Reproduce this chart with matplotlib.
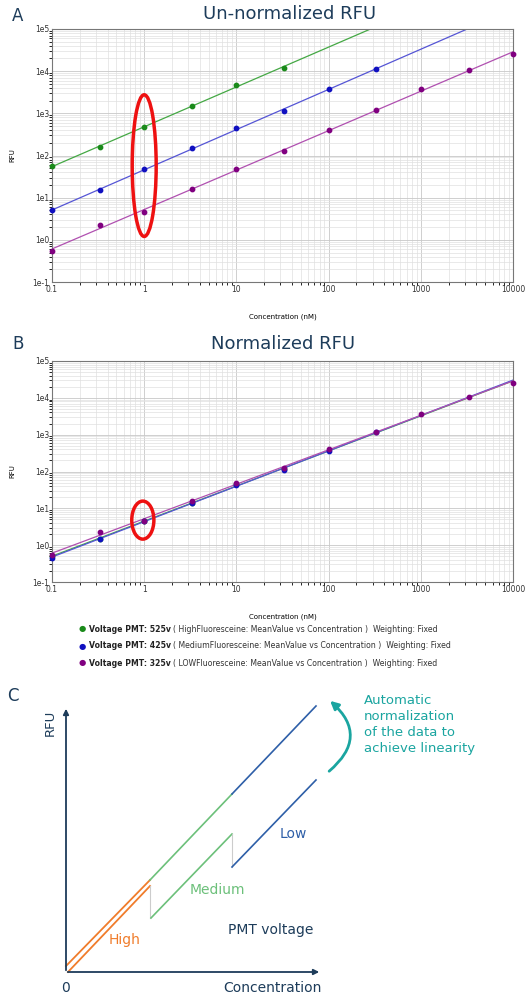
import numpy as np
import matplotlib
matplotlib.use("Agg")
import matplotlib.pyplot as plt
from matplotlib.patches import Ellipse, FancyArrowPatch

conc = [0.1, 0.33, 1, 3.3, 10, 33, 100, 330, 1000, 3300, 10000]
high_raw = [55, 160, 480, 1500, 4700, 12000]
med_raw = [5, 15, 48, 150, 450, 1150, 3700, 11500]
low_raw = [0.55, 2.3, 4.5, 16, 48, 125, 400, 1200, 3700, 10500, 26000]
high_norm = [0.5, 1.5, 4.6, 14, 45, 115]
med_norm = [0.45, 1.5, 4.6, 14, 43, 110, 370, 1150]
low_norm = [0.55, 2.3, 4.5, 16, 48, 125, 400, 1200, 3700, 10500, 26000]
xticks = [0.1, 1, 10, 100, 1000, 10000]
xticklabels = ["0.1", "1", "10", "100", "1000", "10000"]
yticks = [0.1, 1, 10, 100, 1000, 10000, 100000]
yticklabels = ["1e-1", "1e0", "1e1", "1e2", "1e3", "1e4", "1e5"]
legend_bold = ["Voltage PMT: 525v", "Voltage PMT: 425v", "Voltage PMT: 325v"]
legend_desc = ["( HighFluoresceine: MeanValue vs Concentration )  Weighting: Fixed",
               "( MediumFluoresceine: MeanValue vs Concentration )  Weighting: Fixed",
               "( LOWFluoresceine: MeanValue vs Concentration )  Weighting: Fixed"]

W, H = 529, 1000
fig = plt.figure(figsize=(W/100, H/100), dpi=100)
navy = "#1d3c5a"
pt_cols = ["#1a8a1a", "#1010c0", "#800080"]
ln_cols = ["#44a844", "#5555d5", "#b050b0"]

def fax(l, r, t, b):
    return fig.add_axes([l/W, 1-b/H, (r-l)/W, (b-t)/H])

def panel(ax, series, ell):
    xs = np.logspace(-1, 4, 50)
    for (d, pc, lc) in zip(series, pt_cols, ln_cols):
        x = np.array(conc[:len(d)]); y = np.array(d)
        p = np.polyfit(np.log10(x), np.log10(y), 1)
        ax.plot(xs, 10**np.polyval(p, np.log10(xs)), color=lc, lw=0.9)
        ax.scatter(x, y, s=10, color=pc, zorder=3, clip_on=False)
    ax.set_xscale("log"); ax.set_yscale("log")
    ax.set_xlim(0.1, 10000); ax.set_ylim(0.1, 1e5)
    ax.set_xticks(xticks, xticklabels); ax.set_yticks(yticks, yticklabels)
    ax.tick_params(labelsize=5.5, colors="#333333", length=0, pad=2)
    ax.grid(True, which="major", color="#c8c8c8", lw=0.6)
    ax.grid(True, which="minor", color="#e0e0e0", lw=0.5)
    for s in ax.spines.values():
        s.set_color("#777777")
    ax.set_ylabel("RFU", fontsize=5, labelpad=12)
    ax.set_xlabel("Concentration (nM)", fontsize=5, labelpad=14)
    ax.add_patch(Ellipse(ell[:2], ell[2], ell[3], transform=ax.transAxes,
                         fill=False, ec="#ee1111", lw=2.5, zorder=4))

axA = fax(52, 513, 29, 282)
panel(axA, [high_raw, med_raw, low_raw], (0.2, 0.46, 0.052, 0.56))
axB = fax(52, 513, 361, 582)
panel(axB, [high_norm, med_norm, low_norm], (0.197, 0.28, 0.048, 0.172))

fig.text(12/W, 1-16/H, "A", fontsize=12, color=navy, va="center")
fig.text(290/W, 1-14/H, "Un-normalized RFU", fontsize=13, color=navy, ha="center", va="center")
fig.text(12/W, 1-344/H, "B", fontsize=12, color=navy, va="center")
fig.text(283/W, 1-344/H, "Normalized RFU", fontsize=13, color=navy, ha="center", va="center")

for i, (b, dsc) in enumerate(zip(legend_bold, legend_desc)):
    yy = 1-(629+17*i)/H
    fig.text(82/W, yy, "●", fontsize=6, color=pt_cols[i], va="center", ha="center")
    fig.text(89/W, yy, b, fontsize=5.6, fontweight="bold", color="#222222", va="center")
    fig.text(173/W, yy, dsc, fontsize=5.6, color="#333333", va="center")

# Panel C overlay in pixel coordinates
ov = fig.add_axes([0, 0, 1, 1]); ov.set_xlim(0, W); ov.set_ylim(H, 0); ov.axis("off")
ov.annotate("", xy=(66, 706), xytext=(66, 973), arrowprops=dict(arrowstyle="-|>", color=navy, lw=1.3, mutation_scale=8))
ov.annotate("", xy=(322, 972), xytext=(65, 972), arrowprops=dict(arrowstyle="-|>", color=navy, lw=1.3, mutation_scale=8))
orange, green, blue = "#f07c2b", "#6cc07a", "#2e5fa8"
ov.plot([66, 150], [966, 880], color=orange, lw=1.3)
ov.plot([68, 150], [972, 886], color=orange, lw=1.3)
ov.plot([150, 232], [880, 794], color=green, lw=1.2)
ov.plot([232, 316], [794, 706], color=blue, lw=1.2)
ov.plot([150, 150], [886, 918], color="#cccccc", lw=0.8)
ov.plot([151, 232], [918, 834], color=green, lw=1.2)
ov.plot([232, 232], [834, 867], color="#cccccc", lw=0.8)
ov.plot([232, 316], [867, 780], color=blue, lw=1.2)
ov.add_patch(FancyArrowPatch((327, 773), (328, 699), connectionstyle="arc3,rad=0.6",
                             arrowstyle="-|>", mutation_scale=12, color="#1aa5a0", lw=2))
ov.text(364, 694, "Automatic\nnormalization\nof the data to\nachieve linearity", fontsize=9.5,
        color="#1aa5a0", va="top", linespacing=1.3)
ov.text(280, 834, "Low", fontsize=10, color=blue, va="center")
ov.text(190, 890, "Medium", fontsize=10, color=green, va="center")
ov.text(109, 940, "High", fontsize=10, color=orange, va="center")
ov.text(228, 930, "PMT voltage", fontsize=10, color=navy, va="center")
ov.text(66, 988, "0", fontsize=10, color=navy, va="center", ha="center")
ov.text(322, 988, "Concentration", fontsize=10, color=navy, va="center", ha="right")
ov.text(50, 723, "RFU", fontsize=9.5, color=navy, va="center", ha="center", rotation=90)
ov.text(7, 696, "C", fontsize=12, color=navy, va="center")

fig.savefig("out.png", dpi=100)
